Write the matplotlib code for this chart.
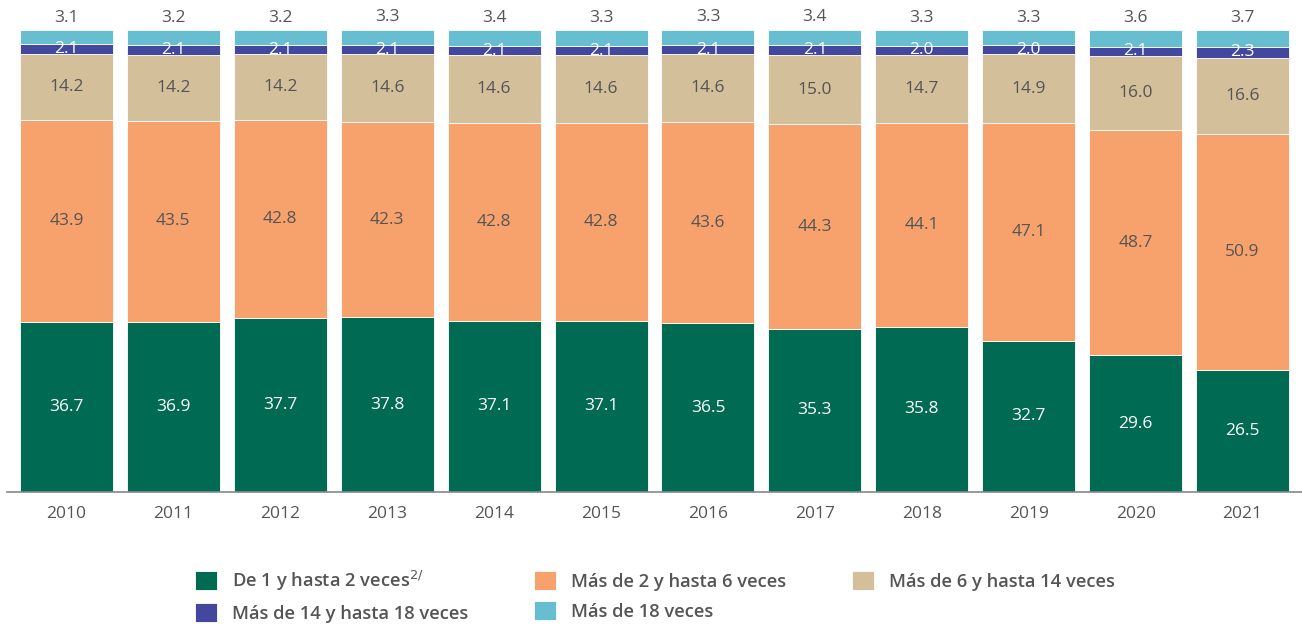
import matplotlib.pyplot as plt
import numpy as np

plt.rcParams['font.family'] = ['Open Sans', 'DejaVu Sans']

years = ['2010', '2011', '2012', '2013', '2014', '2015',
         '2016', '2017', '2018', '2019', '2020', '2021']
de_1_a_2 = [36.7, 36.9, 37.7, 37.8, 37.1, 37.1, 36.5, 35.3, 35.8, 32.7, 29.6, 26.5]
de_2_a_6 = [43.9, 43.5, 42.8, 42.3, 42.8, 42.8, 43.6, 44.3, 44.1, 47.1, 48.7, 50.9]
de_6_a_14 = [14.2, 14.2, 14.2, 14.6, 14.6, 14.6, 14.6, 15.0, 14.7, 14.9, 16.0, 16.6]
de_14_a_18 = [2.1, 2.1, 2.1, 2.1, 2.1, 2.1, 2.1, 2.1, 2.0, 2.0, 2.1, 2.3]
mas_18 = [3.1, 3.2, 3.2, 3.3, 3.4, 3.3, 3.3, 3.4, 3.3, 3.3, 3.6, 3.7]

series = [de_1_a_2, de_2_a_6, de_6_a_14, de_14_a_18, mas_18]
names = ['De 1 y hasta 2 veces$^{2/}$', 'Más de 2 y hasta 6 veces',
         'Más de 6 y hasta 14 veces', 'Más de 14 y hasta 18 veces',
         'Más de 18 veces']
colors = ['#006A53', '#F7A26C', '#D4BF9B', '#43489E', '#67BED0']
txt_colors = ['white', '#555555', '#555555', 'white', '#555555']

fig = plt.figure(figsize=(13.02, 6.27), dpi=100)
ax = fig.add_axes([7 / 1302, 135 / 627, 1295 / 1302, 462 / 627])

x = np.arange(len(years))
bottom = np.zeros(len(years))
bars = []
for i, vals in enumerate(series):
    vals = np.array(vals)
    b = ax.bar(x, vals, 0.87, bottom=bottom, color=colors[i],
               edgecolor='white', linewidth=0.6, label=names[i])
    bars.append(b)
    for xi, v, b0 in zip(x, vals, bottom):
        if i == 4:
            ax.text(xi, b0 + v + 0.9, f'{v:.1f}', ha='center', va='bottom',
                    fontsize=12.5, color=txt_colors[i])
        else:
            ax.text(xi, b0 + v / 2, f'{v:.1f}', ha='center', va='center',
                    fontsize=12.5, color=txt_colors[i])
    bottom += vals

ax.set_xlim(-0.556, 11.556)
ax.set_ylim(0, 100)
ax.set_xticks(x)
ax.set_xticklabels(years, fontsize=12.5, color='#555555')
ax.tick_params(axis='x', length=0, pad=10)
ax.set_yticks([])
for s in ['top', 'right', 'left']:
    ax.spines[s].set_visible(False)
ax.spines['bottom'].set_color('#888888')
ax.spines['bottom'].set_linewidth(1.2)

order = [0, 3, 1, 4, 2]
leg = fig.legend([bars[k] for k in order], [names[k] for k in order],
                 loc='center', bbox_to_anchor=(0.503, 0.05), ncol=3,
                 frameon=False, fontsize=13.2, handlelength=1.2,
                 handleheight=1.2, handletextpad=0.8,
                 columnspacing=3.6, labelspacing=0.55)
for t in leg.get_texts():
    t.set_color('#555555')
    t.set_fontweight('semibold')

fig.savefig('out.png', dpi=100)
